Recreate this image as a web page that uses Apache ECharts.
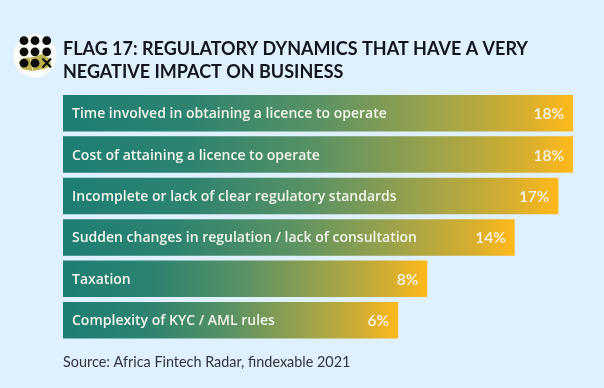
<!DOCTYPE html>
<html><head><meta charset="utf-8">
<style>html,body{margin:0;padding:0;background:#dff0fe}#c{width:604px;height:388px}</style>
<script src="https://cdn.jsdelivr.net/npm/echarts@6/dist/echarts.min.js"></script>
</head><body><div id="c"></div>
<script>
const categories = ['Time involved in obtaining a licence to operate','Cost of attaining a licence to operate','Incomplete or lack of clear regulatory standards','Sudden changes in regulation / lack of consultation','Taxation','Complexity of KYC / AML rules'];
const values = [18,18,17,14,8,6];
const titleText = 'FLAG 17: REGULATORY DYNAMICS THAT HAVE A VERY\nNEGATIVE IMPACT ON BUSINESS';
const sourceText = 'Source: Africa Fintech Radar, findexable 2021';
const axisMin = -17, axisMax = 18;
const FONT = 'Lato', LABEL_FONT = 'Open Sans';
const chart = echarts.init(document.getElementById('c'), null, {renderer:'canvas'});
const dots = [];
[24,35,46.7].forEach((x,i)=>[40.7,51.8,63.2].forEach((y,j)=>{
  if(!(i===2&&j===2)) dots.push({type:'circle',shape:{cx:x,cy:y,r:4.4},style:{fill:'#0d0d0d'},z:5});
}));
chart.setOption({
  backgroundColor:'#dff0fe',
  animation:false,
  grid:{left:63,width:510,top:92.5,height:248.4},
  xAxis:{type:'value',min:axisMin,max:axisMax,show:false},
  yAxis:{type:'category',data:categories,inverse:true,show:false},
  title:{text:titleText,left:63,top:38,textStyle:{fontFamily:FONT,fontSize:18,fontWeight:700,color:'#14141c',lineHeight:22.5},padding:0},
  graphic:[
    {type:'circle',shape:{cx:35,cy:56,r:21.7},style:{fill:'#fbfdf8'},z:1},
    {type:'polygon',shape:{points:[[19,62],[24,58],[34,57],[42,54],[50,59],[51,66],[44,69],[32,71],[22,69]]},style:{fill:'#bdb24b'},z:2},
    {type:'polyline',shape:{points:[[30,57],[33,71]]},style:{stroke:'#f4f1d8',lineWidth:0.8,fill:'none'},z:3},
    ...dots,
    {type:'line',shape:{x1:42.5,y1:58.5,x2:51,y2:67.5},style:{stroke:'#0d0d0d',lineWidth:2},z:5},
    {type:'line',shape:{x1:51,y1:58.5,x2:42.5,y2:67.5},style:{stroke:'#0d0d0d',lineWidth:2},z:5},
    {type:'text',left:63,top:355.5,style:{text:sourceText,fontFamily:FONT,fontSize:14.4,fill:'#33333c'}}
  ],
  series:[{
    type:'custom',
    data:values.map((v,i)=>[v,i]),
    encode:{x:0,y:1},
    renderItem(params,api){
      const v=api.value(0),i=api.value(1);
      const end=api.coord([v,i]), start=api.coord([axisMin,i]);
      const h=36.5;
      return {type:'group',children:[
        {type:'rect',shape:{x:start[0],y:end[1]-h/2,width:end[0]-start[0],height:h},
         style:{fill:new echarts.graphic.LinearGradient(0,0,1,0,[
           {offset:0,color:'#1e7e74'},{offset:.25,color:'#2d8370'},{offset:.5,color:'#5a9264'},
           {offset:.75,color:'#a3a448'},{offset:.9,color:'#d4ae30'},{offset:1,color:'#ffb91a'}])}},
        {type:'text',x:start[0]+9,y:end[1]+1,style:{text:categories[i],fontFamily:LABEL_FONT,fontSize:14,fontWeight:600,fill:'#f3f6ea',verticalAlign:'middle',align:'left'}},
        {type:'text',x:end[0]-9,y:end[1]+1,style:{text:v+'%',fontFamily:FONT,fontSize:15.5,fontWeight:600,fill:'#f8f5e6',verticalAlign:'middle',align:'right'}}
      ]};
    }
  }]
});
</script></body></html>
